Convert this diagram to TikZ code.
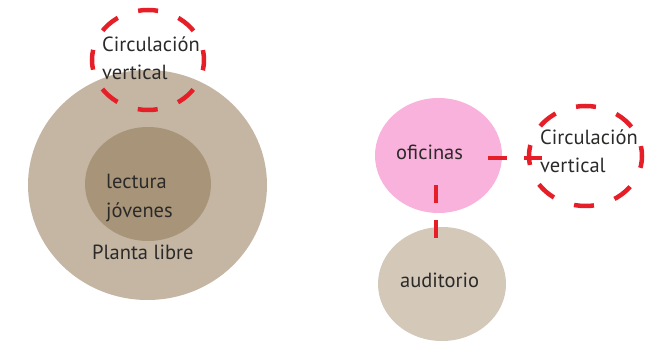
\documentclass[tikz,border=0pt]{standalone}
\usepackage{fontspec}
\setmainfont{PT Sans}
\usetikzlibrary{shapes.geometric}
\definecolor{tanbig}{HTML}{C4B6A3}
\definecolor{taninner}{HTML}{A89478}
\definecolor{pinkof}{HTML}{F8B2DC}
\definecolor{tanaud}{HTML}{D4C8B8}
\definecolor{redc}{HTML}{E61E28}
\definecolor{txtc}{HTML}{2B2A29}
\tikzset{
  blob/.style={ellipse, inner sep=0pt, outer sep=0pt, draw=none},
  circv/.style={ellipse, inner sep=0pt, outer sep=0pt, draw=redc, line width=4.5pt,
    dash pattern=on 20pt off 21.6pt, dash phase=10pt},
  conn/.style={draw=redc, line width=4.5pt},
  txt/.style={font=\fontsize{20.5}{28}\selectfont, text=txtc, inner sep=0pt, anchor=base west}
}
\begin{document}
\begin{tikzpicture}[x=1pt,y=-1pt]
\useasboundingbox (0,0) rectangle (664,344);
% left group
\node[blob, fill=tanbig, minimum width=239pt, minimum height=230pt] (big) at (147.5,185) {};
\node[blob, fill=taninner, minimum width=126pt, minimum height=114pt] (inner) at (148,184) {};
\node[txt] (lec) at (106,189) {lectura};
\node[txt] (jov) at (106,218) {jóvenes};
\node[txt] (pl) at (92,260) {Planta libre};
\node[txt] (c1a) at (102,52) {Circulación};
\node[txt] (c1b) at (102,80) {vertical};
\node[circv, minimum width=112pt, minimum height=100pt] (cv1) at (148,60) {};
% right group
\node[blob, fill=pinkof, minimum width=127pt, minimum height=115pt] (of) at (438.5,155.5) {};
\node[blob, fill=tanaud, minimum width=128pt, minimum height=114pt] (au) at (442,284) {};
\node[txt] (oft) at (396,160) {oficinas};
\node[txt] (aut) at (400,288) {auditorio};
\node[txt] (c2a) at (540,145) {Circulación};
\node[txt] (c2b) at (540,173) {vertical};
\node[circv, minimum width=113pt, minimum height=100pt] (cv2) at (585.5,156) {};
\coordinate (h1) at (488,158);
\coordinate (h2) at (542,158);
\coordinate (v1) at (436,185);
\coordinate (v2) at (436,238);
\draw[conn, dash pattern=on 19pt off 17pt] (h1) -- (h2);
\draw[conn, dash pattern=on 18pt off 17pt] (v1) -- (v2);
\end{tikzpicture}
\end{document}
